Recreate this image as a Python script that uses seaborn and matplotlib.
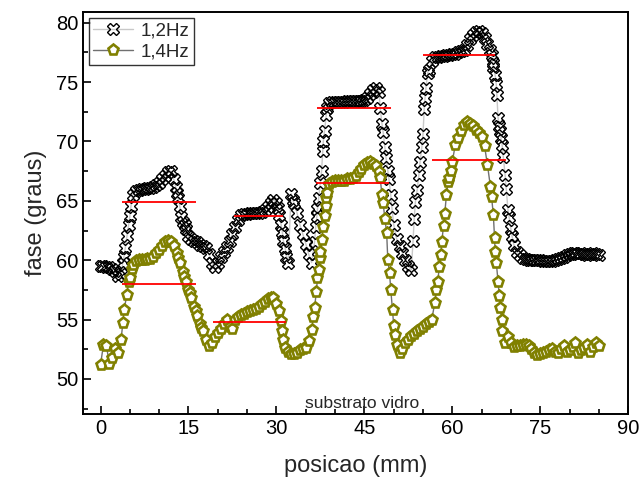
import numpy as np
import pandas as pd
import matplotlib
matplotlib.use("Agg")
import matplotlib.pyplot as plt
from matplotlib.ticker import MultipleLocator
import seaborn as sns

# posição (mm), amostrada a cada 0,5 mm
posicao = np.arange(0, 85.01, 0.5)

fase_12hz = [
    59.5, 59.5, 59.4, 59.4, 59.3, 59.1, 58.7, 58.8, 60.3, 62.0,   # 0 - 4.5
    63.7, 65.5, 65.8, 65.9, 66.0, 66.0, 66.1, 66.1, 66.2, 66.3,   # 5 - 9.5
    66.5, 66.8, 67.1, 67.4, 67.5, 66.8, 65.7, 64.6, 63.2, 62.6,   # 10 - 14.5
    62.0, 61.8, 61.6, 61.5, 61.3, 61.2, 61.0, 60.5, 59.8, 59.4,   # 15 - 19.5
    59.8, 60.3, 60.7, 61.1, 61.6, 62.2, 62.8, 63.4, 63.8, 63.9,   # 20 - 24.5
    63.9, 64.0, 64.0, 64.0, 64.0, 64.1, 64.2, 64.5, 64.8, 65.1,   # 25 - 29.5
    64.8, 63.8, 62.4, 61.0, 59.8, 65.6, 64.8, 64.0, 63.0, 62.2,   # 30 - 34.5
    61.4, 60.5, 59.8, 61.5, 64.3, 66.5, 70.0, 72.2, 73.2, 73.3,   # 35 - 39.5
    73.3, 73.3, 73.3, 73.3, 73.4, 73.4, 73.4, 73.4, 73.4, 73.4,   # 40 - 44.5
    73.5, 73.7, 74.0, 74.3, 74.5, 74.2, 71.5, 69.5, 67.5, 65.5,   # 45 - 49.5
    63.0, 61.8, 61.2, 60.6, 60.0, 59.5, 59.2, 63.5, 65.9, 68.3,   # 50 - 54.5
    70.6, 74.5, 76.0, 76.8, 77.1, 77.1, 77.2, 77.2, 77.3, 77.3,   # 55 - 59.5
    77.4, 77.4, 77.5, 77.6, 77.7, 78.1, 78.6, 79.0, 79.2, 79.3,   # 60 - 64.5
    79.1, 78.7, 78.2, 77.7, 76.3, 74.8, 71.3, 69.7, 67.2, 64.2,   # 65 - 69.5
    62.6, 61.3, 60.7, 60.4, 60.2, 60.1, 60.0, 60.0, 60.0, 60.0,   # 70 - 74.5
    60.0, 59.9, 59.9, 59.9, 59.9, 60.0, 60.1, 60.2, 60.3, 60.4,   # 75 - 79.5
    60.5, 60.6, 60.6, 60.5, 60.6, 60.5, 60.4, 60.5, 60.6, 60.5,   # 80 - 84.5
    60.4,                                                         # 85
]

# pontos lidos a mais nas subidas/descidas íngremes (1,2Hz)
pos_extra_12 = [3.8, 4.2, 4.8, 5.2, 12.8, 13.2, 13.8, 14.4,
                30.3, 30.8, 31.2, 31.7, 32.8,
                36.7, 36.9, 37.2, 37.7, 37.9, 38.2, 38.7,
                47.7, 48.2, 48.7, 49.2, 49.7,
                53.3, 53.7, 54.3, 54.8, 55.2, 55.35, 55.8,
                66.7, 66.9, 67.3, 67.6, 67.8, 68.1, 68.3, 68.7, 69.2, 69.7, 70.2]
fase_extra_12 = [59.8, 61.0, 63.0, 64.6, 66.2, 65.2, 63.6, 63.0,
                 64.4, 63.0, 61.6, 60.3, 65.1,
                 62.8, 63.7, 65.2, 67.5, 69.2, 70.9, 72.8,
                 72.8, 70.8, 68.6, 66.8, 64.4,
                 61.6, 64.9, 67.2, 69.5, 72.7, 73.7, 75.8,
                 77.3, 76.6, 75.6, 73.9, 72.0, 70.9, 70.3, 68.7, 66.0, 63.6, 62.0]

fase_14hz = [
    51.2, 52.9, 52.8, 51.3, 51.8, 52.5, 52.2, 53.3, 55.8, 57.1,   # 0 - 4.5
    58.5, 59.6, 59.9, 60.0, 60.0, 60.0, 60.1, 60.1, 60.3, 60.6,   # 5 - 9.5
    60.9, 61.2, 61.5, 61.6, 61.5, 61.2, 60.6, 59.8, 59.0, 58.2,   # 10 - 14.5
    57.5, 56.8, 56.1, 55.3, 54.6, 54.0, 53.3, 52.8, 53.0, 53.5,   # 15 - 19.5
    53.9, 54.2, 54.6, 55.0, 54.4, 54.2, 55.0, 55.2, 55.4, 55.5,   # 20 - 24.5
    55.6, 55.7, 55.8, 55.9, 56.1, 56.3, 56.5, 56.7, 56.8, 56.8,   # 25 - 29.5
    56.3, 55.7, 54.0, 52.6, 52.3, 52.1, 52.1, 52.2, 52.4, 52.5,   # 30 - 34.5
    52.6, 53.2, 54.1, 56.0, 58.5, 60.7, 62.8, 65.2, 66.4, 66.6,   # 35 - 39.5
    66.7, 66.7, 66.7, 66.7, 66.8, 66.8, 66.9, 67.1, 67.4, 67.7,   # 40 - 44.5
    68.0, 68.2, 68.3, 68.1, 67.9, 67.4, 65.5, 63.5, 60.0, 57.5,   # 45 - 49.5
    54.5, 52.9, 52.2, 52.5, 53.0, 53.3, 53.6, 53.8, 54.0, 54.2,   # 50 - 54.5
    54.4, 54.6, 54.8, 55.0, 56.4, 58.2, 60.4, 62.9, 65.5, 66.9,   # 55 - 59.5
    68.3, 69.7, 70.3, 70.9, 71.4, 71.6, 71.5, 71.3, 71.0, 70.7,   # 60 - 64.5
    70.4, 69.6, 68.0, 66.2, 63.8, 59.8, 57.0, 54.0, 53.0, 53.5,   # 65 - 69.5
    53.0, 52.7, 52.8, 52.8, 52.9, 52.9, 52.8, 52.5, 52.2, 52.0,   # 70 - 74.5
    52.1, 52.2, 52.3, 52.4, 52.5, 52.3, 52.2, 52.5, 52.8, 52.3,   # 75 - 79.5
    52.4, 52.7, 53.0, 52.2, 52.4, 52.6, 52.9, 52.3, 52.7, 53.0,   # 80 - 84.5
    52.8,                                                         # 85
]

# pontos lidos a mais nas subidas/descidas íngremes (1,4Hz)
pos_extra_14 = [3.8, 4.8, 5.3, 13.2, 14.2, 15.2, 16.2, 17.2,
                30.8, 31.2,
                36.3, 36.8, 37.2, 37.4, 37.7, 38.2, 38.4, 38.7,
                47.7, 48.2, 48.8, 49.3, 49.8, 50.2,
                57.3, 57.8, 58.2, 58.7, 59.3, 59.7,
                66.7, 67.2, 67.3, 67.8, 68.2, 68.4]
fase_extra_14 = [54.7, 58.2, 59.3, 60.2, 58.6, 57.2, 55.7, 54.3,
                 54.9, 53.3,
                 55.2, 57.3, 59.2, 60.2, 61.7, 63.7, 64.6, 65.7,
                 66.9, 64.8, 62.3, 58.9, 55.8, 53.7,
                 57.5, 59.4, 61.5, 63.9, 66.6, 67.5,
                 65.3, 61.9, 60.7, 58.2, 56.0, 55.0]

# linhas vermelhas (nível médio de cada degrau)
nivel_y = [64.9, 58.0, 63.7, 54.8, 72.8, 66.5, 77.3, 68.4]
nivel_x0 = [3.7, 3.7, 22.7, 19.2, 37.0, 36.8, 55.0, 56.5]
nivel_x1 = [16.2, 16.3, 31.2, 31.7, 49.6, 49.2, 67.2, 69.2]

df12 = pd.DataFrame({"posicao": np.concatenate([posicao, pos_extra_12]),
                     "fase": np.concatenate([fase_12hz, fase_extra_12])})
df12 = df12.sort_values("posicao")
df14 = pd.DataFrame({"posicao": np.concatenate([posicao, pos_extra_14]),
                     "fase": np.concatenate([fase_14hz, fase_extra_14])})
df14 = df14.sort_values("posicao")

sns.set_theme(style="ticks")
plt.rcParams["font.family"] = ["Liberation Sans", "DejaVu Sans"]

fig = plt.figure(figsize=(6.43, 4.88), dpi=100)
ax = fig.add_axes([0.129, 0.1516, 0.848, 0.8238])

sns.lineplot(data=df12, x="posicao", y="fase", ax=ax, sort=False,
             color="#c8c8c8", linewidth=1.0, label="1,2Hz",
             marker="X", markersize=8.5, markerfacecolor="none",
             markeredgecolor="black", markeredgewidth=1.0)
sns.lineplot(data=df14, x="posicao", y="fase", ax=ax, sort=False,
             color="#707070", linewidth=1.0, label="1,4Hz",
             marker="p", markersize=8, markerfacecolor="white",
             markeredgecolor="#808000", markeredgewidth=1.9)

ax.hlines(nivel_y, nivel_x0, nivel_x1, color="red", linewidth=1.3, zorder=5)

ax.text(44.7, 47.9, "substrato vidro", ha="center", va="center", fontsize=12.5)

ax.set_xlim(-3.0, 90)
ax.set_ylim(47.05, 80.9)
ax.xaxis.set_major_locator(MultipleLocator(15))
ax.xaxis.set_minor_locator(MultipleLocator(5))
ax.yaxis.set_major_locator(MultipleLocator(5))
ax.yaxis.set_minor_locator(MultipleLocator(2.5))
ax.tick_params(which="both", direction="in", width=1.2, labelsize=14.5,
               colors="black", top=False, right=False)
ax.tick_params(which="major", length=6)
ax.tick_params(which="minor", length=3.5)
for s in ax.spines.values():
    s.set_linewidth(1.4)
    s.set_color("black")

ax.set_xlabel("posicao (mm)", fontsize=17, labelpad=12)
ax.set_ylabel("fase (graus)", fontsize=17, labelpad=6)

leg = ax.legend(loc="upper left", fontsize=13.5, frameon=True, fancybox=False,
                borderaxespad=0.3, handlelength=2.1, borderpad=0.25,
                labelspacing=0.2, handletextpad=0.4)
leg.get_frame().set_edgecolor("black")
leg.get_frame().set_linewidth(1.0)

fig.savefig("out.png", dpi=100)
